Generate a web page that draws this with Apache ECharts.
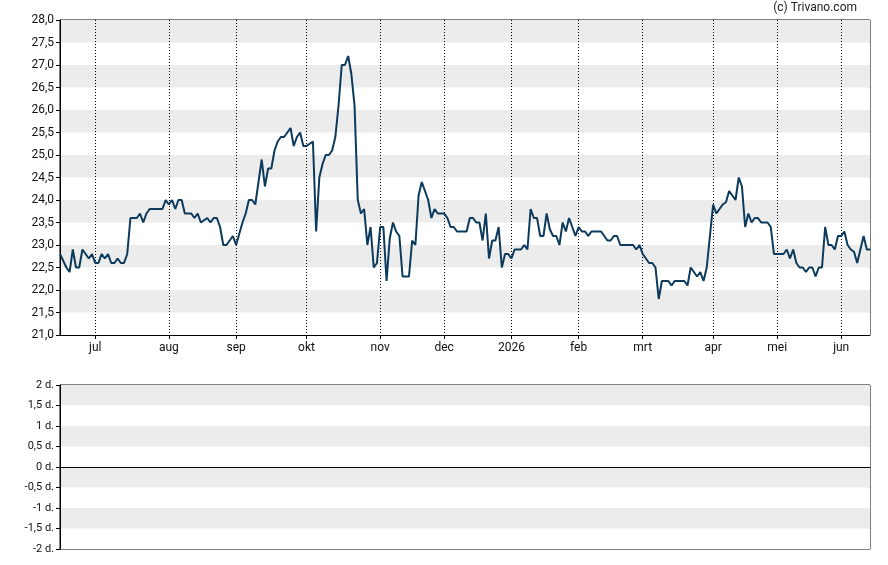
<!DOCTYPE html>
<html>
<head>
<meta charset="utf-8">
<script src="https://cdn.jsdelivr.net/npm/echarts@6/dist/echarts.min.js"></script>
<style>
html,body{margin:0;padding:0;background:#fff;}
#chart{width:888px;height:565px;}
</style>
</head>
<body>
<div id="chart"></div>
<script>
// ---- data ----
const startDate = '2025-06-16';
const endDate = '2026-06-12';
const holidays = ['2025-12-25', '2025-12-26', '2026-01-01', '2026-04-03', '2026-04-06', '2026-05-01'];
const monthNames = ['jan', 'feb', 'mrt', 'apr', 'mei', 'jun', 'jul', 'aug', 'sep', 'okt', 'nov', 'dec'];
const priceTicks = [21, 28, 0.5];
const lowerTicks = [-2, 2, 0.5];
const copyright = '(c) Trivano.com';

// closing prices, one per trading day
const prices = [
  22.8, 22.65, 22.5, 22.4, 22.9, 22.5, 22.5, 22.9, 22.8, 22.7,
  22.8, 22.6, 22.6, 22.8, 22.7, 22.8, 22.6, 22.6, 22.7, 22.6,
  22.6, 22.8, 23.6, 23.6, 23.6, 23.7, 23.5, 23.7, 23.8, 23.8,
  23.8, 23.8, 23.8, 24.0, 23.9, 24.0, 23.8, 24.0, 24.0, 23.7,
  23.7, 23.7, 23.6, 23.7, 23.5, 23.55, 23.6, 23.5, 23.6, 23.6,
  23.4, 23.0, 23.0, 23.1, 23.2, 23.0, 23.25, 23.5, 23.7, 24.0,
  24.0, 23.9, 24.4, 24.9, 24.3, 24.7, 24.7, 25.1, 25.3, 25.4,
  25.4, 25.5, 25.6, 25.2, 25.4, 25.5, 25.2, 25.2, 25.25, 25.3,
  23.3, 24.5, 24.8, 25.0, 25.0, 25.1, 25.4, 26.1, 27.0, 27.0,
  27.2, 26.8, 26.1, 24.0, 23.7, 23.8, 23.0, 23.4, 22.5, 22.6,
  23.4, 23.4, 22.2, 23.15, 23.5, 23.3, 23.2, 22.3, 22.3, 22.3,
  23.1, 23.0, 24.1, 24.4, 24.2, 24.0, 23.6, 23.8, 23.7, 23.7,
  23.7, 23.6, 23.4, 23.4, 23.3, 23.3, 23.3, 23.3, 23.6, 23.6,
  23.5, 23.5, 23.1, 23.7, 22.7, 23.1, 23.1, 23.4, 22.5, 22.8,
  22.8, 22.7, 22.9, 22.9, 22.9, 23.0, 22.9, 23.8, 23.6, 23.6,
  23.2, 23.2, 23.7, 23.35, 23.2, 23.2, 23.0, 23.5, 23.3, 23.6,
  23.4, 23.2, 23.4, 23.3, 23.3, 23.2, 23.3, 23.3, 23.3, 23.3,
  23.2, 23.1, 23.1, 23.2, 23.2, 23.0, 23.0, 23.0, 23.0, 23.0,
  22.9, 23.0, 22.8, 22.7, 22.6, 22.6, 22.5, 21.8, 22.2, 22.2,
  22.2, 22.1, 22.2, 22.2, 22.2, 22.2, 22.1, 22.5, 22.4, 22.3,
  22.4, 22.2, 22.5, 23.2, 23.9, 23.7, 23.8, 23.9, 23.95, 24.2,
  24.1, 24.0, 24.5, 24.3, 23.4, 23.7, 23.5, 23.6, 23.6, 23.5,
  23.5, 23.5, 23.4, 22.8, 22.8, 22.8, 22.8, 22.9, 22.7, 22.9,
  22.6, 22.5, 22.5, 22.4, 22.5, 22.5, 22.3, 22.5, 22.5, 23.4,
  23.0, 23.0, 22.9, 23.2, 23.2, 23.3, 23.0, 22.9, 22.85, 22.6,
  22.9, 23.2, 22.9, 22.9
];

// ---- trading-day categories ----
function tradingDays(from, to, closed) {
  const out = [];
  const d = new Date(from + 'T00:00:00Z');
  const end = new Date(to + 'T00:00:00Z');
  while (d <= end) {
    const s = d.toISOString().slice(0, 10);
    const wd = d.getUTCDay();
    if (wd !== 0 && wd !== 6 && closed.indexOf(s) < 0) out.push(s);
    d.setUTCDate(d.getUTCDate() + 1);
  }
  return out;
}
const dates = tradingDays(startDate, endDate, holidays);
function isMonthStart(i) {
  return i > 0 && dates[i].slice(0, 7) !== dates[i - 1].slice(0, 7);
}
function monthLabel(v) {
  const m = +v.slice(5, 7);
  return m === 1 ? v.slice(0, 4) : monthNames[m - 1];
}
function comma(v, digits) {
  return v.toFixed(digits).replace('.', ',');
}
function lowerLabel(v) {
  const r = Math.round(v * 10) / 10;
  return (Number.isInteger(r) ? String(r) : comma(r, 1)) + ' d.';
}

const FONT = 'Roboto';
const band = { show: true, areaStyle: { color: ['#ffffff', '#ececec'] } };

const chart = echarts.init(document.getElementById('chart'), null, { renderer: 'canvas' });
chart.setOption({
  animation: false,
  backgroundColor: '#ffffff',
  textStyle: { fontFamily: FONT },
  graphic: [{
    type: 'text', right: 31, top: 2,
    style: { text: copyright, font: '12px ' + FONT, fill: '#222' }
  }],
  grid: [
    { left: 60, right: 18, top: 20, height: 315, show: true, borderColor: '#000', borderWidth: 1, backgroundColor: 'transparent' },
    { left: 60, right: 18, top: 385, height: 164, show: true, borderColor: '#000', borderWidth: 1, backgroundColor: 'transparent' }
  ],
  xAxis: [
    {
      type: 'category', gridIndex: 0, data: dates, boundaryGap: false,
      axisLine: { show: true, lineStyle: { color: '#000', width: 1 } },
      axisTick: { show: true, length: 4, interval: isMonthStart, lineStyle: { color: '#000' } },
      axisLabel: { interval: isMonthStart, formatter: monthLabel, color: '#111', fontSize: 12, margin: 7, fontFamily: FONT },
      splitLine: { show: true, interval: isMonthStart, lineStyle: { color: '#000', width: 1, type: [1, 2] } }
    },
    {
      type: 'category', gridIndex: 1, data: dates, boundaryGap: false,
      axisLine: { show: true, onZero: true, lineStyle: { color: '#000', width: 1 } },
      axisTick: { show: false }, axisLabel: { show: false }, splitLine: { show: false }
    }
  ],
  yAxis: [
    {
      type: 'value', gridIndex: 0, min: priceTicks[0], max: priceTicks[1], interval: priceTicks[2],
      axisLine: { show: true, lineStyle: { color: '#000' } },
      axisTick: { show: true, length: 4, lineStyle: { color: '#000' } },
      axisLabel: { formatter: v => comma(v, 1), color: '#111', fontSize: 12, margin: 6, fontFamily: FONT },
      splitLine: { show: false },
      splitArea: band
    },
    {
      type: 'value', gridIndex: 1, min: lowerTicks[0], max: lowerTicks[1], interval: lowerTicks[2],
      axisLine: { show: true, onZero: false, lineStyle: { color: '#000' } },
      axisTick: { show: true, length: 4, lineStyle: { color: '#000' } },
      axisLabel: { formatter: lowerLabel, color: '#111', fontSize: 11, margin: 6, fontFamily: FONT },
      splitLine: { show: false },
      splitArea: band
    }
  ],
  series: [
    {
      type: 'line', xAxisIndex: 0, yAxisIndex: 0, data: prices,
      showSymbol: false, symbol: 'none',
      lineStyle: { color: '#0c3a5c', width: 2 },
      z: 5
    },
    {
      type: 'line', xAxisIndex: 1, yAxisIndex: 1, data: [], showSymbol: false
    }
  ]
});
</script>
</body>
</html>
